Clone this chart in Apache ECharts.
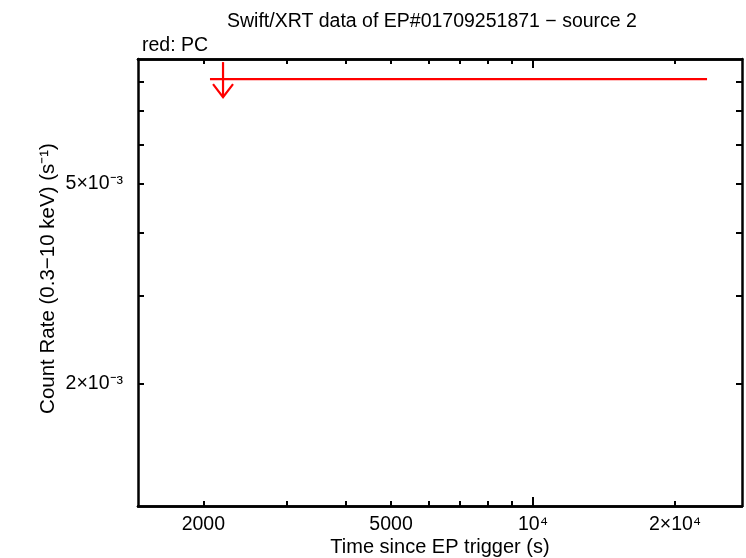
<!DOCTYPE html>
<html>
<head>
<meta charset="utf-8">
<script src="https://cdn.jsdelivr.net/npm/echarts@6/dist/echarts.min.js"></script>
<style>html,body{margin:0;padding:0;background:#fff}#c{width:746px;height:558px}</style>
</head>
<body>
<div id="c"></div>
<script>
// ---- data ----
var xRange = [1454, 27730];
var yRange = [0.001143, 0.00887];
var xTickValues = [2000, 3000, 4000, 5000, 6000, 7000, 8000, 9000, 10000, 20000];
var xMajorTickValues = [10000];
var xLabelValues = [2000, 5000, 10000, 20000];
var xLabelTexts = ['2000', '5000', '10\u2074', '2\u00d710\u2074'];
var yTickValues = [0.002, 0.003, 0.004, 0.005, 0.006, 0.007, 0.008];
var yLabelValues = [0.002, 0.005];
var yLabelTexts = ['2\u00d710\u207b\u00b3', '5\u00d710\u207b\u00b3'];
// PC upper limit: [time start, time end, arrow time, rate]
var pcStart = [2066];
var pcEnd = [23380];
var pcArrowTime = [2202];
var pcRate = [0.00809];

var L = Math.log10;
var FONT = 'Liberation Sans';
function labelFor(vals, texts) {
  return function (v) {
    var best = 0, d = 1e9;
    for (var i = 0; i < vals.length; i++) {
      var dd = Math.abs(L(vals[i]) - v);
      if (dd < d) { d = dd; best = i; }
    }
    return texts[best];
  };
}
function xAxisDef(pos, ticks, len, withLabels) {
  return {
    type: 'value', position: pos, min: L(xRange[0]), max: L(xRange[1]),
    axisLine: { show: true, onZero: false, lineStyle: { color: '#000', width: 2.5 } },
    splitLine: { show: false },
    axisTick: { show: true, inside: true, length: len, customValues: ticks.map(L), lineStyle: { color: '#000', width: 2 } },
    axisLabel: withLabels ? {
      show: true, customValues: xLabelValues.map(L), formatter: labelFor(xLabelValues, xLabelTexts),
      color: '#000', fontFamily: FONT, fontSize: 19.5, margin: 9
    } : { show: false },
    name: withLabels ? 'Time since EP trigger (s)' : '',
    nameLocation: 'middle', nameGap: 31, nameMoveOverlap: false,
    nameTextStyle: { color: '#000', fontFamily: FONT, fontSize: 20 }
  };
}
function yAxisDef(pos, withLabels) {
  return {
    type: 'value', position: pos, min: L(yRange[0]), max: L(yRange[1]),
    axisLine: { show: true, onZero: false, lineStyle: { color: '#000', width: 2.5 } },
    splitLine: { show: false },
    axisTick: { show: true, inside: true, length: 6, customValues: yTickValues.map(L), lineStyle: { color: '#000', width: 2 } },
    axisLabel: withLabels ? {
      show: true, customValues: yLabelValues.map(L), formatter: labelFor(yLabelValues, yLabelTexts),
      color: '#000', fontFamily: FONT, fontSize: 19.5, margin: 15
    } : { show: false },
    name: withLabels ? 'Count Rate (0.3\u221210 keV) (s\u207b\u00b9)' : '',
    nameLocation: 'middle', nameGap: 79, nameMoveOverlap: false,
    nameTextStyle: { color: '#000', fontFamily: FONT, fontSize: 20.5, padding: [0, 0, 0, 8] }
  };
}

var ulData = pcStart.map(function (s, i) {
  return [L(s), L(pcEnd[i]), L(pcArrowTime[i]), L(pcRate[i])];
});

var chart = echarts.init(document.getElementById('c'), null, { renderer: 'canvas' });
chart.setOption({
  animation: false,
  backgroundColor: '#fff',
  title: [{
    text: 'Swift/XRT data of EP#01709251871 \u2212 source 2',
    left: 222, top: 7,
    textStyle: { color: '#000', fontFamily: FONT, fontSize: 19.5, fontWeight: 'normal' }
  }, {
    text: 'red: PC',
    left: 137, top: 31,
    textStyle: { color: '#000', fontFamily: FONT, fontSize: 19.5, fontWeight: 'normal' }
  }],
  grid: { left: 138, right: 4, top: 59, bottom: 52, containLabel: false, outerBoundsMode: 'none' },
  xAxis: [
    xAxisDef('bottom', xTickValues, 5, true),
    xAxisDef('bottom', xMajorTickValues, 9, false),
    xAxisDef('top', xTickValues, 5, false),
    xAxisDef('top', xMajorTickValues, 9, false)
  ],
  yAxis: [
    yAxisDef('left', true),
    yAxisDef('right', false)
  ],
  series: [{
    type: 'custom',
    xAxisIndex: 0, yAxisIndex: 0,
    clip: false,
    data: ulData,
    renderItem: function (params, api) {
      var p0 = api.coord([api.value(0), api.value(3)]);
      var p1 = api.coord([api.value(1), api.value(3)]);
      var pa = api.coord([api.value(2), api.value(3)]);
      var st = { stroke: '#ff0000', lineWidth: 2.2, fill: null };
      return {
        type: 'group',
        children: [
          { type: 'line', shape: { x1: p0[0], y1: p0[1], x2: p1[0], y2: p1[1] }, style: st },
          { type: 'line', shape: { x1: pa[0], y1: pa[1] - 17, x2: pa[0], y2: pa[1] + 18 }, style: st },
          { type: 'polyline', shape: { points: [[pa[0] - 10, pa[1] + 5], [pa[0], pa[1] + 18], [pa[0] + 10, pa[1] + 5]] }, style: st }
        ]
      };
    }
  }]
});
</script>
</body>
</html>
